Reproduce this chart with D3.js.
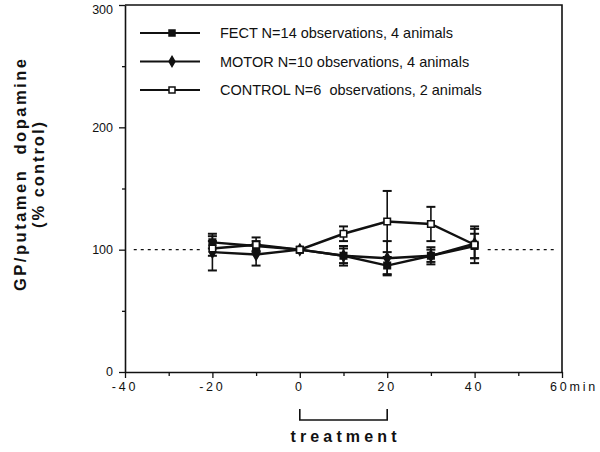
<!DOCTYPE html>
<html>
<head>
<meta charset="utf-8">
<script src="https://cdn.jsdelivr.net/npm/d3@7"></script>
<style>
  body { margin: 0; background: #fff; }
  svg { display: block; font-family: "Liberation Sans", Arial, sans-serif; }
  .tick-label { font-size: 12.5px; fill: #111; }
  .axis-title { font-size: 16px; font-weight: bold; fill: #111; }
  .y-title { font-size: 16.5px; }
  .legend-text { font-size: 14.5px; fill: #111; }
</style>
</head>
<body>
<svg id="chart" width="600" height="452"></svg>
<script>
// time points (min) and group means / errors
let times = [-20, -10, 0, 10, 20, 30, 40];

let fectValues   = [106, 103, 100, 95, 87, 95, 103];
let fectErrors   = [5, 4, 0, 6, 7, 5, 10];
let motorValues  = [98, 96, 100, 95, 93, 95, 105];
let motorErrors  = [15, 9, 0, 8, 14, 7, 12];
let controlValues = [101, 104, 100, 113, 123, 121, 104];
let controlErrors = [6, 6, 0, 6, 25, 14, 15];

let seriesNames = ["FECT N=14 observations, 4 animals",
  "MOTOR N=10 observations, 4 animals",
  "CONTROL N=6  observations, 2 animals"];

let xTicks = [-40, -20, 0, 20, 40, 60];
let xTickLabels = ["-40", "-20", "0", "20", "40", "60min"];
let yTicks = [0, 100, 200, 300];
let treatmentRange = [0, 20];

let drawChart = function() {
  let svg = d3.select("svg#chart");

  const margin = { top: 5, bottom: 80, left: 125, right: 38 };
  const width = 600, height = 452;
  let plotWidth = width - margin.left - margin.right;
  let plotHeight = height - margin.top - margin.bottom;

  let x = d3.scaleLinear().domain([-40, 60]).range([0, plotWidth]);
  let y = d3.scaleLinear().domain([0, 300]).range([plotHeight, 0]);

  const plot = svg.append("g").attr("transform", translate(margin.left, margin.top));

  // frame: top and right lines
  plot.append("path")
    .attr("d", "M0," + y(300) + "H" + x(60) + "V" + y(0))
    .attr("fill", "none").attr("stroke", "#111").attr("stroke-width", 1.6);

  // axes
  let xAxis = d3.axisBottom(x).tickValues(d3.range(-40, 61, 10))
    .tickSize(5).tickFormat("").tickSizeOuter(0);
  let xGroup = plot.append("g").attr("transform", translate(0, plotHeight)).call(xAxis);
  xGroup.selectAll(".tick line").attr("y2", d => d % 20 === 0 ? 6 : 4);

  let yAxis = d3.axisLeft(y).tickValues(d3.range(0, 301, 50))
    .tickSize(5).tickFormat("").tickSizeOuter(0);
  let yGroup = plot.append("g").call(yAxis);
  yGroup.selectAll(".tick line").attr("x2", d => d % 100 === 0 ? -6 : -3);

  [xGroup, yGroup].forEach(g => {
    g.select(".domain").attr("stroke", "#111").attr("stroke-width", 1.6);
    g.selectAll(".tick line").attr("stroke", "#111").attr("stroke-width", 1.3);
  });

  plot.selectAll(".xlab").data(xTicks).enter().append("text")
    .attr("class", "tick-label")
    .attr("x", d => x(d) - (d === 60 ? 12 : 0))
    .attr("y", plotHeight + 19)
    .attr("text-anchor", d => d === 60 ? "start" : "middle")
    .style("letter-spacing", "2.8px")
    .text((d, i) => xTickLabels[i]);

  plot.selectAll(".ylab").data(yTicks).enter().append("text")
    .attr("class", "tick-label")
    .attr("x", -12).attr("y", d => Math.max(y(d), 4.5)).attr("dy", "0.35em")
    .attr("text-anchor", "end")
    .text(d => d);

  // dotted 100% reference line
  [[-38, -22], [43, 59]].forEach(seg => {
    plot.append("line")
      .attr("x1", x(seg[0])).attr("x2", x(seg[1]))
      .attr("y1", y(100)).attr("y2", y(100))
      .attr("stroke", "#111").attr("stroke-width", 1.2)
      .attr("stroke-dasharray", "3,4");
  });

  let series = [
    { values: fectValues, errors: fectErrors, marker: "square", fill: "#111" },
    { values: motorValues, errors: motorErrors, marker: "diamond", fill: "#111" },
    { values: controlValues, errors: controlErrors, marker: "square", fill: "#fff" }
  ];

  let line = d3.line().x(d => x(d.t)).y(d => y(d.v));

  series.forEach(s => {
    let pts = times.map((t, i) => ({ t: t, v: s.values[i], e: s.errors[i] }));
    plot.append("path").datum(pts)
      .attr("d", line).attr("fill", "none")
      .attr("stroke", "#111").attr("stroke-width", 2.4);

    let eb = plot.append("g").selectAll("g").data(pts.filter(p => p.e > 0)).enter().append("g");
    eb.append("line")
      .attr("x1", p => x(p.t)).attr("x2", p => x(p.t))
      .attr("y1", p => y(p.v - p.e)).attr("y2", p => y(p.v + p.e))
      .attr("stroke", "#111").attr("stroke-width", 1.6);
    [-1, 1].forEach(sign => {
      eb.append("line")
        .attr("x1", p => x(p.t) - 4.5).attr("x2", p => x(p.t) + 4.5)
        .attr("y1", p => y(p.v + sign * p.e)).attr("y2", p => y(p.v + sign * p.e))
        .attr("stroke", "#111").attr("stroke-width", 2);
    });
    s.pts = pts;
  });

  series.forEach(s => {
    let sym = d3.symbol().type(s.marker === "square" ? d3.symbolSquare : d3.symbolDiamond)
      .size(s.marker === "square" ? 42 : 34);
    plot.append("g").selectAll("path").data(s.pts).enter().append("path")
      .attr("d", sym)
      .attr("transform", p => translate(x(p.t), y(p.v)))
      .attr("fill", s.fill).attr("stroke", "#111").attr("stroke-width", 1.6);
  });

  // legend
  const legend = svg.append("g").attr("transform", translate(140, 33));
  series.forEach((s, i) => {
    let g = legend.append("g").attr("transform", translate(0, i * 28.5));
    g.append("line").attr("x1", 0).attr("x2", 60).attr("y1", 0).attr("y2", 0)
      .attr("stroke", "#111").attr("stroke-width", 2);
    let sym = d3.symbol().type(s.marker === "square" ? d3.symbolSquare : d3.symbolDiamond)
      .size(s.marker === "square" ? 36 : 30);
    g.append("path").attr("d", sym).attr("transform", translate(32, 0))
      .attr("fill", s.fill).attr("stroke", "#111").attr("stroke-width", 1.5);
    g.append("text").attr("class", "legend-text")
      .attr("x", 80).attr("y", 0).attr("dy", "0.35em")
      .attr("xml:space", "preserve")
      .text(seriesNames[i]);
  });

  // treatment bracket
  let bracketY = plotHeight + 48;
  plot.append("path")
    .attr("d", "M" + x(treatmentRange[0]) + "," + (bracketY - 11) + "V" + bracketY +
      "H" + x(treatmentRange[1]) + "V" + (bracketY - 11))
    .attr("fill", "none").attr("stroke", "#111").attr("stroke-width", 1.6);
  plot.append("text").attr("class", "axis-title")
    .attr("x", midpoint([x(treatmentRange[0]), x(treatmentRange[1])]))
    .attr("y", plotHeight + 70)
    .attr("text-anchor", "middle")
    .attr("textLength", 106).attr("lengthAdjust", "spacing")
    .text("treatment");

  // y axis title
  const yTitleGroup = svg.append("g").attr("transform", translate(20, 175) + " rotate(-90)");
  yTitleGroup.append("text").attr("class", "axis-title y-title")
    .attr("x", 0).attr("y", 0).attr("dy", "0.35em").attr("text-anchor", "middle")
    .attr("xml:space", "preserve")
    .attr("textLength", 232).attr("lengthAdjust", "spacing")
    .text("GP/putamen  dopamine");
  yTitleGroup.append("text").attr("class", "axis-title y-title")
    .attr("x", 0).attr("y", 18).attr("dy", "0.35em").attr("text-anchor", "middle")
    .attr("textLength", 106).attr("lengthAdjust", "spacing")
    .text("(% control)");
}

drawChart();

function midpoint(range) {
  return range[0] + (range[1] - range[0]) / 2.0;
}

function translate(x, y) {
  return 'translate(' + String(x) + ',' + String(y) + ')';
}
</script>
</body>
</html>
